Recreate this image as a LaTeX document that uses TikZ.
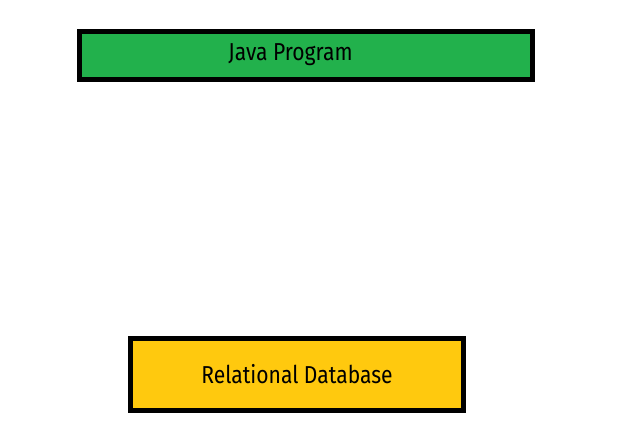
\documentclass[tikz,border=0pt]{standalone}
\usepackage{fontspec}
\setmainfont{Fira Sans}[FakeStretch=0.86]
\usetikzlibrary{positioning}
\definecolor{progGreen}{HTML}{22B14C}
\definecolor{dbYellow}{HTML}{FFC90E}
\tikzstyle{layer}=[draw=black,line width=5pt,inner sep=0pt]
\tikzstyle{caption}=[font=\fontsize{24.5}{28}\selectfont]
\newcommand{\newLayer}[6]{\node[layer,caption,fill=#3,minimum width=#4,minimum height=#5](#1) at #6 {#2};}

\begin{document}
\begin{tikzpicture}[x=1pt,y=-1pt]
    \useasboundingbox (0,0) rectangle (625,432);
    \newLayer{java}{}{progGreen}{453pt}{48pt}{(306,55.5)}
    \node[caption] (javatext) at (290.5,55) {Java Program};
    \newLayer{db}{Relational Database}{dbYellow}{333pt}{72pt}{(297,374.5)}
\end{tikzpicture}
\end{document}
